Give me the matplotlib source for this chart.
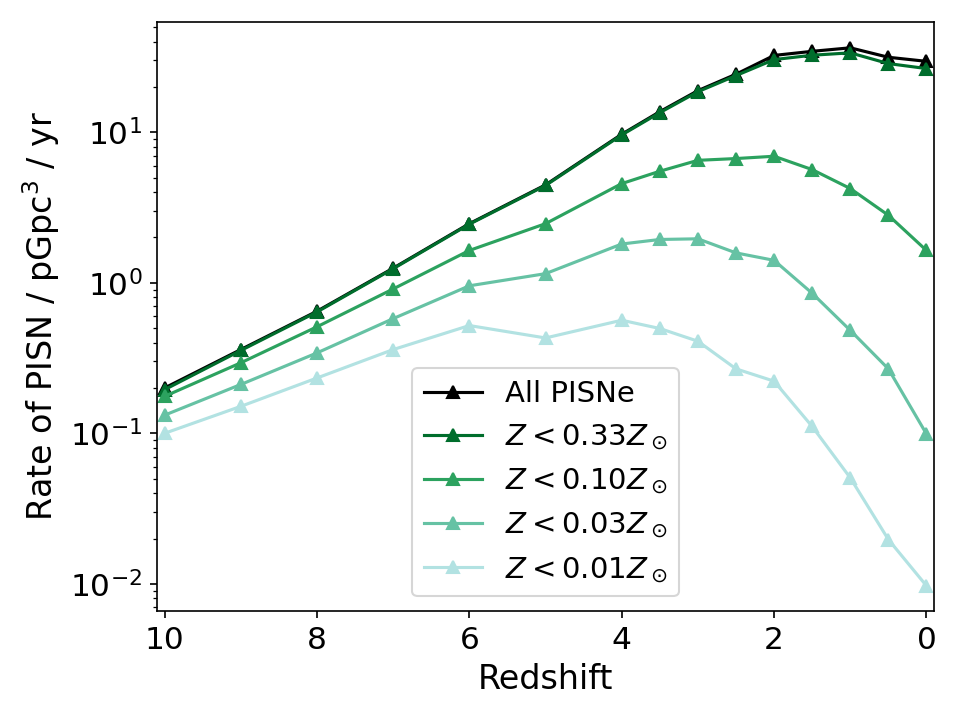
import numpy as np
import matplotlib
matplotlib.use('Agg')
import matplotlib.pyplot as plt

redshift = [10, 9, 8, 7, 6, 5, 4, 3.5, 3, 2.5, 2, 1.5, 1, 0.5, 0]

rate_all = [0.20, 0.36, 0.647, 1.25, 2.47, 4.47, 9.7, 13.7, 18.9, 24.3, 32.4, 34.5, 36.4, 31.5, 29.6]
rate_033 = [0.195, 0.355, 0.64, 1.24, 2.45, 4.43, 9.6, 13.5, 18.6, 23.8, 30.4, 32.5, 33.7, 28.6, 26.5]
rate_010 = [0.176, 0.294, 0.51, 0.91, 1.64, 2.47, 4.56, 5.51, 6.51, 6.69, 6.93, 5.65, 4.23, 2.81, 1.64]
rate_003 = [0.132, 0.211, 0.342, 0.578, 0.955, 1.15, 1.81, 1.94, 1.96, 1.58, 1.41, 0.852, 0.483, 0.268, 0.099]
rate_001 = [0.10, 0.151, 0.233, 0.36, 0.52, 0.43, 0.564, 0.497, 0.409, 0.268, 0.222, 0.111, 0.0506, 0.0197, 0.0097]

labels = ['All PISNe', r'$Z < 0.33Z_\odot$', r'$Z < 0.10Z_\odot$',
          r'$Z < 0.03Z_\odot$', r'$Z < 0.01Z_\odot$']
colours = ['black', '#006d2c', '#2ca25f', '#66c2a4', '#b2e2e2']
series = [rate_all, rate_033, rate_010, rate_003, rate_001]

plt.rcParams['font.size'] = 14

f, ax = plt.subplots(figsize=(6.4, 4.8), dpi=150)

for s, c, l in zip(series, colours, labels):
    ax.plot(redshift, s, marker='^', color=c, label=l)

ax.set_yscale('log')
ax.set_xlim(10.1, -0.1)
ax.set_ylim(0.0066, 54)
ax.set_xticks([10, 8, 6, 4, 2, 0])
ax.tick_params(labelsize=15)

ax.set_xlabel('Redshift', fontsize=16)
ax.set_ylabel(r'Rate of PISN / pGpc$^3$ / yr', fontsize=16)
ax.legend(loc='lower center', fontsize=14)

f.subplots_adjust(left=0.1635, right=0.973, bottom=0.1514, top=0.9694)
f.savefig('out.png')
